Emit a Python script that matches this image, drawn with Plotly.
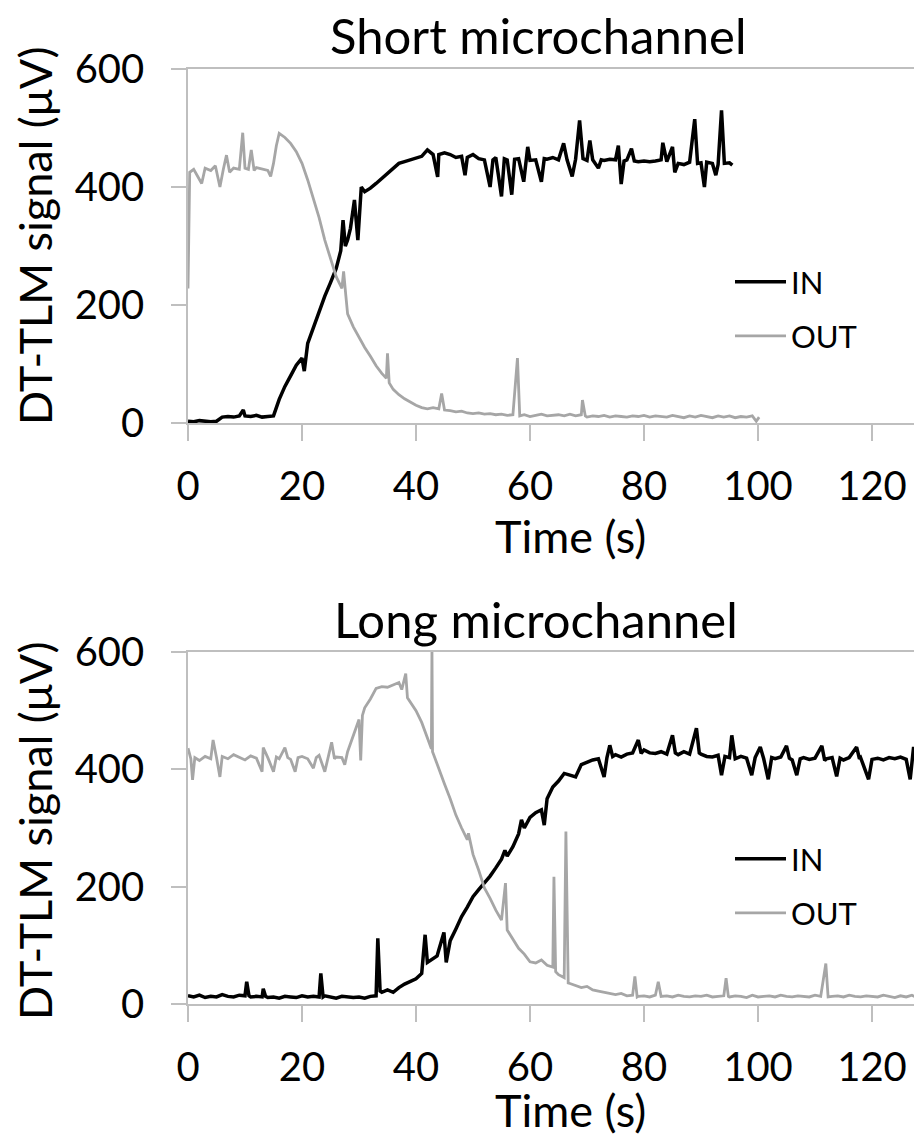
import plotly.graph_objects as go

# ---------------- data ----------------
# Short microchannel, IN
short_in_t = [0, 1, 2, 3, 4, 5, 6, 7, 8, 9,
              9.7, 10, 11, 12, 13, 14, 15, 16, 17, 18,
              19, 20, 20.4, 21, 22, 23, 24, 25, 26, 26.8,
              27.2, 27.6, 28, 28.5, 29.2, 29.8, 30.4, 31, 32, 33,
              34, 35, 36, 37, 38, 39, 40, 41, 42, 43,
              43.8, 44, 45, 46, 47, 48, 48.6, 49, 50, 51,
              52, 53, 53.5, 54, 55, 55.5, 56, 56.8, 57.3, 58,
              58.9, 59.6, 60, 61, 62, 62.5, 63, 64, 65, 65.9,
              66.5, 67.4, 68, 68.7, 69.3, 70, 70.5, 71, 72, 72.5,
              73, 74, 75, 75.5, 76, 76.5, 77, 77.8, 78.3, 79,
              80, 81, 82, 83, 83.3, 84, 85, 85.4, 86, 87,
              88, 88.9, 89.4, 90, 90.6, 91, 92, 92.6, 93, 93.6,
              94.1, 95, 95.5]
short_in_v = [3, 2, 4, 3, 2, 3, 10, 11, 10, 12,
              22, 12, 11, 13, 10, 11, 12, 40, 62, 80,
              98, 110, 88, 135, 163, 190, 215, 238, 262, 292,
              344, 300, 310, 330, 378, 310, 400, 392, 398, 406,
              415, 423, 432, 440, 443, 446, 449, 452, 463, 455,
              417, 455, 458, 455, 450, 452, 420, 450, 455, 448,
              446, 400, 446, 450, 384, 448, 446, 387, 447, 448,
              409, 468, 445, 446, 409, 448, 447, 450, 446, 474,
              446, 418, 447, 513, 448, 445, 479, 446, 432, 446,
              445, 447, 446, 470, 405, 444, 446, 465, 444, 443,
              444, 443, 444, 446, 475, 443, 468, 425, 440, 438,
              442, 515, 440, 441, 400, 442, 440, 420, 438, 530,
              440, 441, 437]

# Short microchannel, OUT
short_out_t = [0, 0.3, 1, 1.7, 2.4, 3, 4, 4.8, 5.6, 6.2,
               6.75, 7.3, 8, 9, 9.6, 10, 10.6, 11.1, 11.6, 12,
               13, 14, 14.5, 15, 15.5, 16, 17, 18, 19, 20,
               21, 22, 23, 24, 25, 26, 27, 27.3, 27.7, 28,
               29, 30, 31, 32, 33, 34, 34.8, 35, 35.3, 36,
               37, 38, 39, 40, 41, 42, 43, 44, 44.5, 45,
               46, 47, 48, 49, 50, 51, 52, 53, 54, 55,
               56, 57, 57.8, 58.2, 59, 60, 61, 62, 63, 64,
               65, 66, 67, 68, 69, 69.2, 69.7, 70, 71, 72,
               73, 74, 75, 76, 77, 78, 79, 80, 81, 82,
               83, 84, 85, 86, 87, 88, 89, 90, 91, 92,
               93, 94, 95, 96, 97, 98, 99, 99.7, 100.2]
short_out_v = [228, 425, 430, 418, 406, 432, 428, 436, 400, 430,
               454, 425, 432, 430, 492, 432, 430, 463, 428, 433,
               431, 428, 418, 440, 470, 491, 484, 474, 460, 440,
               412, 380, 348, 310, 278, 248, 228, 257, 215, 185,
               163, 145, 128, 113, 97, 84, 76, 118, 68, 57,
               48, 41, 35, 30, 26, 24, 26, 24, 50, 22,
               21, 19, 20, 17, 16, 17, 15, 16, 14, 15,
               13, 14, 110, 12, 14, 11, 13, 15, 12, 13,
               14, 12, 15, 12, 14, 39, 12, 10, 12, 11,
               13, 10, 12, 11, 10, 12, 11, 13, 10, 12,
               11, 10, 13, 11, 9, 12, 10, 13, 11, 9,
               12, 10, 12, 9, 11, 10, 12, 3, 10]

# Long microchannel, IN
long_in_t = [0, 1, 2, 3, 4, 5, 6, 7, 8, 9,
             10, 10.3, 10.7, 11, 12, 13, 13.2, 13.6, 14, 15,
             16, 17, 18, 19, 20, 21, 22, 23, 23.3, 23.7,
             24, 25, 26, 27, 28, 29, 30, 31, 32, 33,
             33.3, 33.7, 34, 35, 36, 37, 38, 39, 40, 41,
             41.6, 42, 43, 43.7, 44, 44.9, 45.3, 46, 47, 48,
             49, 50, 51, 52, 53, 54, 55, 55.6, 56, 57,
             58, 58.5, 59, 60, 61, 62, 62.5, 63, 64, 65,
             66, 67, 68, 69, 70, 71, 72, 73, 73.5, 74,
             74.5, 75, 76, 77, 78, 79, 79.5, 80, 81, 82,
             83, 84, 85, 85.5, 86, 87, 88, 89.2, 89.7, 90,
             91, 92, 93, 93.6, 94.2, 95, 95.4, 96, 97, 98,
             98.9, 99.5, 100.4, 101, 101.8, 102.4, 103, 104, 105, 105.5,
             106, 106.8, 107.4, 108, 109, 110, 111.2, 111.7, 112, 113,
             113.8, 114.4, 115, 116, 117.3, 117.8, 118, 119.4, 120, 121,
             122, 123, 124, 125, 126, 126.7, 127.3, 127.8, 128, 129]
long_in_v = [14, 12, 15, 11, 13, 12, 16, 13, 12, 15,
             14, 38, 14, 12, 13, 12, 26, 13, 11, 12,
             10, 13, 12, 11, 14, 12, 13, 12, 52, 12,
             14, 12, 10, 13, 12, 11, 12, 10, 13, 14,
             112, 22, 20, 24, 20, 28, 34, 38, 43, 52,
             118, 71, 78, 82, 92, 122, 71, 108, 128, 149,
             165, 183, 195, 206, 218, 232, 247, 262, 252, 268,
             290, 314, 300, 318, 326, 331, 305, 350, 370, 380,
             393, 390, 387, 408, 412, 416, 418, 387, 420, 441,
             422, 425, 421, 426, 428, 450, 427, 433, 428, 427,
             430, 426, 458, 428, 425, 430, 426, 470, 428, 426,
             422, 421, 424, 390, 422, 420, 458, 418, 422, 419,
             390, 420, 438, 418, 383, 420, 418, 421, 440, 419,
             416, 390, 418, 420, 417, 419, 440, 415, 418, 420,
             388, 419, 416, 420, 438, 418, 420, 383, 417, 419,
             416, 420, 418, 421, 417, 383, 438, 416, 418, 420]

# Long microchannel, OUT
long_out_t = [0, 0.5, 0.8, 1.2, 2, 3, 4, 4.4, 5, 5.6,
              6, 7, 8, 9, 10, 11, 12, 13, 13.2, 14,
              15, 15.5, 16, 17, 17.5, 18, 18.8, 19.3, 20, 21,
              22, 22.5, 23, 24, 24.5, 25.2, 25.7, 26, 27, 27.5,
              28, 28.5, 29, 30, 30.3, 30.6, 31, 32, 33, 34,
              35, 36, 37, 37.5, 38.2, 38.5, 39, 40, 41, 42,
              42.7, 42.8, 42.9, 43.1, 44, 45, 46, 47, 48, 49,
              49.2, 50, 51, 52, 53, 54, 55, 55.7, 56, 57,
              58, 59, 60, 61, 62, 63, 64, 64.2, 64.5, 65,
              66, 66.3, 66.7, 67, 68, 69, 70, 71, 72, 73,
              74, 75, 76, 77, 78, 78.4, 78.8, 79, 80, 81,
              82, 82.5, 83, 84, 85, 86, 87, 88, 89, 90,
              91, 92, 93, 94, 94.4, 94.8, 95, 96, 97, 98,
              99, 100, 101, 102, 103, 104, 105, 106, 107, 108,
              109, 110, 111, 111.9, 112.3, 113, 114, 115, 116, 117,
              118, 119, 120, 121, 122, 123, 124, 125, 126, 127,
              128, 129]
long_out_v = [436, 418, 382, 420, 415, 422, 418, 450, 420, 387,
              422, 418, 425, 420, 416, 423, 419, 396, 437, 420,
              396, 421, 418, 437, 420, 417, 396, 420, 422, 418,
              402, 420, 424, 396, 418, 446, 418, 421, 420, 408,
              430, 444, 460, 485, 415, 492, 505, 520, 538, 541,
              540, 544, 548, 536, 563, 522, 515, 500, 480, 455,
              435, 605, 430, 425, 400, 375, 350, 322, 300, 280,
              291, 255, 228, 198, 180, 160, 143, 206, 126, 110,
              95, 85, 72, 70, 75, 66, 63, 217, 55, 50,
              45, 294, 36, 35, 32, 28, 30, 24, 22, 20,
              18, 16, 18, 14, 15, 47, 12, 13, 14, 12,
              15, 38, 13, 14, 12, 15, 13, 12, 14, 13,
              15, 12, 13, 14, 44, 13, 12, 14, 13, 11,
              15, 12, 13, 14, 12, 15, 13, 12, 14, 13,
              12, 15, 13, 69, 12, 13, 14, 12, 15, 13,
              12, 14, 13, 12, 15, 13, 11, 14, 12, 15,
              10, 14]

y_ticks = [0, 200, 400, 600]
x_ticks = [0, 20, 40, 60, 80, 100, 120]
titles = ["Short microchannel", "Long microchannel"]
series_names = ["IN", "OUT"]

# ---------------- styling ----------------
FONT = "Lato, 'Open Sans', sans-serif"
IN_COLOR = "#000000"
OUT_COLOR = "#A6A6A6"
AXIS_COLOR = "#BFBFBF"
W, H = 922, 1134
OFF = 8          # page offset of the figure (body margin)
L = 188 - OFF    # left margin so that t=0 sits at page x=188

fig = go.Figure()
fig.add_trace(go.Scatter(x=short_in_t, y=short_in_v, mode="lines", name=series_names[0],
                         line=dict(color=IN_COLOR, width=3.5), xaxis="x", yaxis="y",
                         legend="legend", legendgroup="a"))
fig.add_trace(go.Scatter(x=short_out_t, y=short_out_v, mode="lines", name=series_names[1],
                         line=dict(color=OUT_COLOR, width=2.8), xaxis="x", yaxis="y",
                         legend="legend", legendgroup="b"))
fig.add_trace(go.Scatter(x=long_in_t, y=long_in_v, mode="lines", name=series_names[0],
                         line=dict(color=IN_COLOR, width=3.5), xaxis="x2", yaxis="y2",
                         legend="legend2", legendgroup="c"))
fig.add_trace(go.Scatter(x=long_out_t, y=long_out_v, mode="lines", name=series_names[1],
                         line=dict(color=OUT_COLOR, width=2.8), xaxis="x2", yaxis="y2",
                         legend="legend2", legendgroup="d"))

px_per_s = 5.7
x_max = (W - L) / px_per_s

def xax(anchor):
    return dict(range=[0, x_max], tickvals=x_ticks, ticks="outside", ticklen=16,
                tickwidth=1.5, tickcolor=AXIS_COLOR, showline=True, linecolor=AXIS_COLOR,
                linewidth=1.5, mirror=True, showgrid=False, zeroline=False,
                tickfont=dict(family=FONT, size=40, color="black"),
                ticklabelstandoff=11, anchor=anchor)

def yax(domain, anchor):
    return dict(range=[0, 600], domain=domain, tickvals=y_ticks, ticks="outside", ticklen=15,
                tickwidth=1.5, tickcolor=AXIS_COLOR, showline=True, linecolor=AXIS_COLOR,
                linewidth=1.5, showgrid=False, zeroline=False,
                tickfont=dict(family=FONT, size=40, color="black"),
                ticklabelstandoff=19, anchor=anchor)

def py(pix):   # page pixel -> paper y
    return 1 - (pix - OFF) / H

def pxx(pix):  # page pixel -> paper x
    return (pix - OFF - L) / (W - L)

legend_common = dict(font=dict(family=FONT, size=31, color="black"), bgcolor="rgba(0,0,0,0)",
                     xanchor="left", yanchor="top", tracegroupgap=11, itemwidth=51)

fig.update_layout(
    width=W, height=H,
    margin=dict(l=L, r=0, t=0, b=0, autoexpand=False),
    paper_bgcolor="white", plot_bgcolor="white",
    xaxis=xax("y"), yaxis=yax([py(423), py(69)], "x"),
    xaxis2=xax("y2"), yaxis2=yax([py(1004), py(652)], "x2"),
    legend=dict(x=pxx(730), y=py(255), **legend_common),
    legend2=dict(x=pxx(730), y=py(832), **legend_common),
    showlegend=True,
)

title_font = dict(family=FONT, size=49, color="black")
axis_title_font = dict(family=FONT, size=45, color="black")
annotations = [
    dict(text=titles[0], x=pxx(538), y=py(35), font=title_font),
    dict(text=titles[1], x=pxx(536), y=py(619), font=title_font),
    dict(text="Time (s)", x=pxx(570), y=py(536), font=axis_title_font),
    dict(text="Time (s)", x=pxx(570), y=py(1110), font=axis_title_font),
    dict(text="DT-TLM signal (μV)", x=pxx(35), y=py(236), textangle=-90, font=axis_title_font),
    dict(text="DT-TLM signal (μV)", x=pxx(35), y=py(831), textangle=-90, font=axis_title_font),
]
for a in annotations:
    fig.add_annotation(xref="paper", yref="paper", showarrow=False, xanchor="center",
                       yanchor="middle", **a)

fig.write_html("out.html")
